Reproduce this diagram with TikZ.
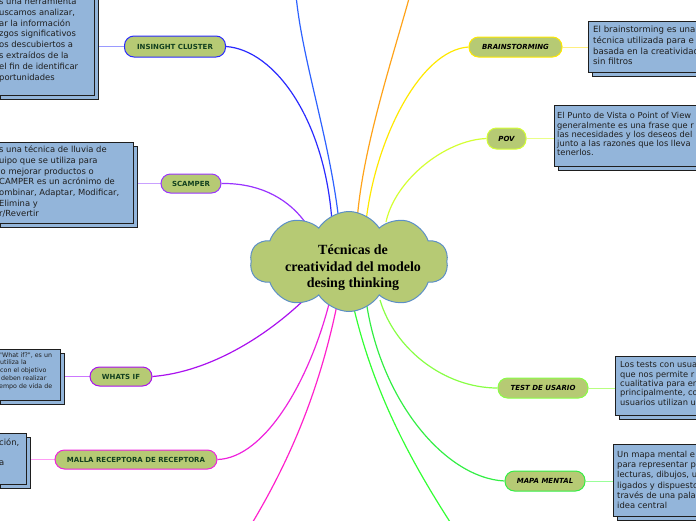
\documentclass[tikz,border=0pt]{standalone}
\usepackage{fontspec}
\setmainfont{Liberation Serif}
\newfontfamily\dvs{DejaVu Sans}[ItalicFont={DejaVu Sans Oblique},BoldFont={DejaVu Sans Bold},BoldItalicFont={DejaVu Sans Bold Oblique}]
\usetikzlibrary{shapes.symbols,shadows}
\pgfdeclarelayer{background}
\pgfsetlayers{background,main}
\definecolor{nodegreen}{HTML}{B6CA74}
\definecolor{boxblue}{HTML}{93B5DA}
\definecolor{boxline}{HTML}{1E1E1E}
\definecolor{labelgreen}{HTML}{12401F}
\definecolor{cloudline}{HTML}{5C8FC6}
\definecolor{cTopBlue}{HTML}{2E62FF}
\definecolor{cOrange}{HTML}{FFA31A}
\definecolor{cInsight}{HTML}{2A2AFF}
\definecolor{cScamper}{HTML}{9933FF}
\definecolor{cBrain}{HTML}{FFE800}
\definecolor{cPov}{HTML}{D4FF33}
\definecolor{cWhats}{HTML}{AA11EE}
\definecolor{cMalla}{HTML}{EE22DD}
\definecolor{cBotMag}{HTML}{FF22CC}
\definecolor{cBotGreen}{HTML}{33FF33}
\definecolor{cTest}{HTML}{88FF44}
\definecolor{cMapa}{HTML}{33EE44}
\definecolor{lInsight}{HTML}{9A9AFF}
\definecolor{lScamper}{HTML}{C9A0FF}
\definecolor{lWhats}{HTML}{CC77FF}
\definecolor{lMalla}{HTML}{FF9CF5}
\definecolor{lBrain}{HTML}{FFEF80}
\definecolor{lPov}{HTML}{EAFF88}
\definecolor{lTest}{HTML}{B8FF80}
\definecolor{lMapa}{HTML}{99FF99}
\tikzset{
  topic/.style={rectangle, rounded corners=9.5pt, fill=nodegreen, line width=1pt, inner sep=0pt,
    font=\dvs\bfseries\fontsize{7}{8}\selectfont, text=labelgreen},
  topicR/.style={topic, text=black, font=\dvs\bfseries\itshape\fontsize{7}{8}\selectfont},
  infobox/.style={rectangle, draw=boxline, line width=1.2pt, fill=boxblue, inner sep=0pt, anchor=north west,
    copy shadow={shadow xshift=3.5pt, shadow yshift=-3.5pt}},
  boxtext/.style={anchor=north west, inner sep=0pt, align=left, text=black!88},
  branch/.style={line width=1.2pt},
  leaf/.style={line width=1pt},
}
\begin{document}
\begin{tikzpicture}[x=1pt,y=-1pt]
\useasboundingbox (0,0) rectangle (696,520);
\begin{scope}
\clip (0,0) rectangle (696,520);
% cloud
\node[cloud, cloud puffs=10, cloud puff arc=115, aspect=2, cloud ignores aspect,
  minimum width=198pt, minimum height=100pt, fill=nodegreen, draw=cloudline, line width=1pt, inner sep=0pt]
  (cloud) at (349,261.5) {};
\node[font=\bfseries\fontsize{14}{16.5}\selectfont, align=center, inner sep=0pt] (title) at (353,268)
  {Técnicas de\\creatividad del modelo\\desing thinking};
% topic nodes
\node[topic, draw=cInsight, minimum width=101pt, minimum height=21pt] (ins) at (175,46.5) {INSINGHT CLUSTER};
\node[topic, draw=cScamper, minimum width=60pt, minimum height=19pt] (sc) at (191,183.5) {SCAMPER};
\node[topic, draw=cWhats, minimum width=62pt, minimum height=19pt] (wi) at (121,376.5) {WHATS IF};
\node[topic, draw=cMalla, minimum width=162pt, minimum height=19pt] (ma) at (136,459.5) {MALLA RECEPTORA DE RECEPTORA};
\node[topicR, draw=cBrain, minimum width=93pt, minimum height=20pt] (bs) at (515.5,47) {BRAINSTORMING};
\node[topicR, draw=cPov, minimum width=39pt, minimum height=21pt] (pov) at (506.5,138.5) {POV};
\node[topicR, draw=cTest, minimum width=90pt, minimum height=20pt] (te) at (543,388) {TEST DE USARIO};
\node[topicR, draw=cMapa, minimum width=80pt, minimum height=20pt] (mm) at (545,481) {MAPA MENTAL};
% info boxes
\node[infobox, minimum width=98pt, minimum height=111pt] (insbox) at (-4,-16) {};
\node[boxtext, font=\dvs\fontsize{8.4}{10.8}\selectfont] (instext) at (-1,-2.3)
  {\rule{0pt}{6.5pt}s una herramienta\\uscamos analizar,\\ar la información\\zgos significativos\\os descubiertos a\\s extraídos de la\\el fin de identificar\\portunidades};
\node[infobox, minimum width=137pt, minimum height=81pt] (scbox) at (-4,142) {};
\node[boxtext, font=\dvs\fontsize{8.4}{10.67}\selectfont] (sctext) at (-1,146)
  {\rule{0pt}{6.5pt}s una técnica de lluvia de\\uipo que se utiliza para\\\hspace*{1.5pt}o mejorar productos o\\CAMPER es un acrónimo de\\ombinar, Adaptar, Modificar,\\Elimina y\\r/Revertir};
\node[infobox, minimum width=64pt, minimum height=51pt] (wibox) at (-4,349) {};
\node[boxtext, font=\dvs\fontsize{6.3}{7.75}\selectfont] (witext) at (-1,352)
  {\rule{0pt}{5pt}"What if?", es un\\\hspace*{1pt}utiliza la\\\hspace*{1pt}con el objetivo\\\hspace*{2pt}deben realizar\\empo de vida de};
\node[infobox, minimum width=30pt, minimum height=51pt] (mabox) at (-4,433) {};
\node[boxtext, font=\dvs\fontsize{8.4}{10}\selectfont] (matext) at (-1,439)
  {\rule{0pt}{6.5pt}ción,\\[10pt]a};
\node[infobox, minimum width=120pt, minimum height=51pt] (bsbox) at (588,21) {};
\node[boxtext, font=\dvs\fontsize{8.6}{10.7}\selectfont] (bstext) at (593,26)
  {\rule{0pt}{6.5pt}El brainstorming es una\\técnica utilizada para e\\basada en la creatividad\\sin filtros};
\node[infobox, minimum width=150pt, minimum height=61pt] (povbox) at (554,105) {};
\node[boxtext, font=\dvs\fontsize{8.3}{9.3}\selectfont] (povtext) at (557,112)
  {\rule{0pt}{6.5pt}El Punto de Vista o Point of View\\generalmente es una frase que r\\las necesidades y los deseos del\\junto a las razones que los lleva\\tenerlos.};
\node[infobox, minimum width=90pt, minimum height=59pt] (tebox) at (615,356) {};
\node[boxtext, font=\dvs\fontsize{8.3}{9.4}\selectfont] (tetext) at (620,361)
  {\rule{0pt}{6.5pt}Los tests con usua\\que nos permite r\\cualitativa para en\\principalmente, co\\usuarios utilizan u};
\node[infobox, minimum width=90pt, minimum height=72pt] (mmbox) at (613,444) {};
\node[boxtext, font=\dvs\fontsize{8.4}{10.1}\selectfont] (mmtext) at (617,451)
  {\rule{0pt}{6.5pt}Un mapa mental e\\para representar p\\lecturas, dibujos, u\\ligados y dispuesto\\través de una pala\\idea central};
% attach points
\coordinate (cA) at (339,222);
\coordinate (cB) at (357,222);
\coordinate (cC) at (332,222);
\coordinate (cD) at (305,222);
\coordinate (cE) at (366,222);
\coordinate (cF) at (386,222);
\coordinate (cG) at (312,292);
\coordinate (cH) at (330,300);
\coordinate (cI) at (338,300);
\coordinate (cJ) at (352,300);
\coordinate (cK) at (380,300);
\coordinate (cL) at (366,300);
\coordinate (topA) at (296,-5);
\coordinate (topB) at (410,-5);
\coordinate (botA) at (251,525);
\coordinate (botB) at (452,525);
\end{scope}
\begin{pgfonlayer}{background}
\clip (0,0) rectangle (696,520);
\draw[branch, cTopBlue] (topA) .. controls (302,60) and (330,140) .. (cA);
\draw[branch, cOrange] (topB) .. controls (392,60) and (362,150) .. (cB);
\draw[branch, cInsight] (ins.east) .. controls (275,50) and (325,120) .. (cC);
\draw[branch, cScamper] (sc.east) .. controls (255,183) and (285,195) .. (cD);
\draw[branch, cBrain] (bs.west) .. controls (420,50) and (375,140) .. (cE);
\draw[branch, cPov] (pov.west) .. controls (445,140) and (395,180) .. (cF);
\draw[branch, cWhats] (wi.east) .. controls (210,372) and (270,335) .. (cG);
\draw[branch, cMalla] (ma.east) .. controls (265,458) and (310,380) .. (cH);
\draw[branch, cBotMag] (cI) .. controls (320,390) and (290,460) .. (botA);
\draw[branch, cBotGreen] (cJ) .. controls (372,390) and (410,460) .. (botB);
\draw[branch, cTest] (te.west) .. controls (445,388) and (395,350) .. (cK);
\draw[branch, cMapa] (mm.west) .. controls (445,478) and (380,400) .. (cL);
\draw[leaf, lInsight] (insbox.east |- ins.west) -- (ins.west);
\draw[leaf, lScamper] (scbox.east |- sc.west) -- (sc.west);
\draw[leaf, lWhats] (wibox.east |- wi.west) -- (wi.west);
\draw[leaf, lMalla] (mabox.east |- ma.west) -- (ma.west);
\draw[leaf, lBrain] (bs.east) -- (bsbox.west |- bs.east);
\draw[leaf, lPov] (pov.east) -- (povbox.west |- pov.east);
\draw[leaf, lTest] (te.east) -- (tebox.west |- te.east);
\draw[leaf, lMapa] (mm.east) -- (mmbox.west |- mm.east);
\end{pgfonlayer}
\end{tikzpicture}
\end{document}
